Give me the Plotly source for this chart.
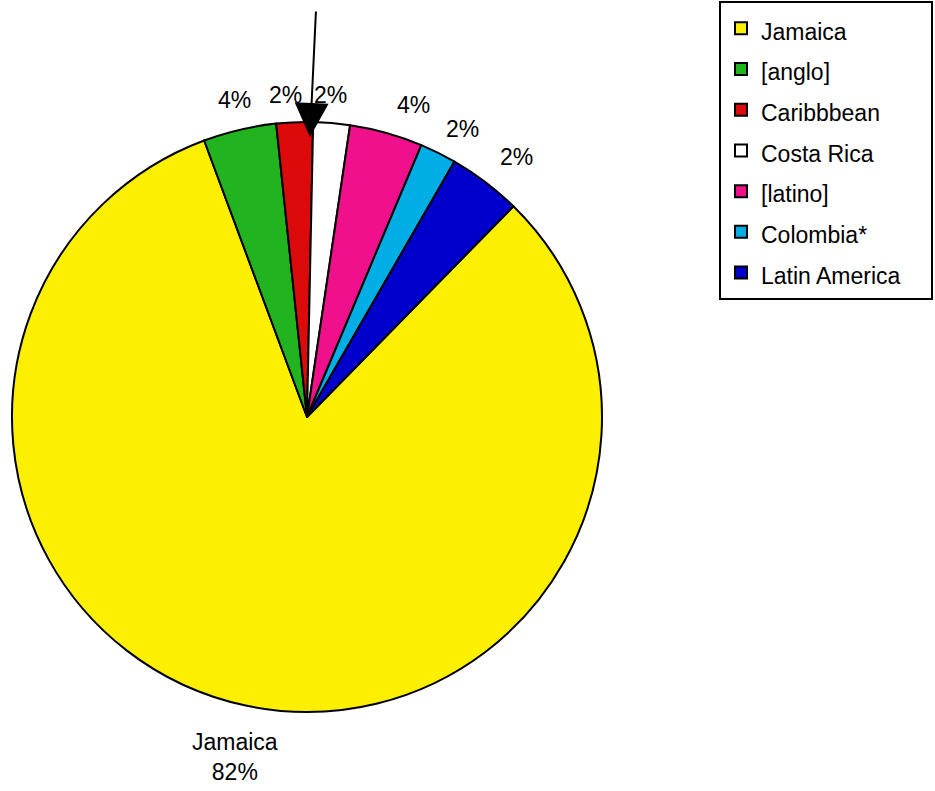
import math
import plotly.graph_objects as go

categories = ["Jamaica", "[anglo]", "Caribbbean", "Costa Rica", "[latino]", "Colombia*", "Latin America"]
values = [41, 2, 1, 1, 2, 1, 2]
slice_labels = ["Jamaica<br>82%", "4%", "2%", "2%", "4%", "2%", "2%"]
colors = ["#FCF000", "#22B41E", "#DC0A0A", "#FFFFFF", "#F0108C", "#00AEE6", "#0000CC"]

W, H = 935, 791
cx, cy, r = 307, 417, 295          # pie centre / radius in pixels
ROT = 44.4                         # start angle of first slice (deg, clockwise from 12 o'clock)
FS = 23
FONT = "Arial, Liberation Sans"
# label placement tweaks: (angle nudge in deg, extra radial gap in px)
label_nudge = {"Jamaica": (0.0, 8), "[anglo]": (0.4, 5.7), "Caribbbean": (-1.5, 5.3),
               "Costa Rica": (-0.7, 5.3), "[latino]": (3.2, 9.3), "Colombia*": (2.0, 6.7),
               "Latin America": (1.6, 11.8)}
PAD = "\u00a0" * 4  # right padding inside the legend box

fig = go.Figure(go.Pie(
    labels=[f'<span style="font-size:{FS}px">{c}{PAD}</span>' for c in categories],
    values=values,
    textinfo="none",
    sort=False,
    direction="clockwise",
    rotation=ROT,
    marker=dict(colors=colors, line=dict(color="black", width=2)),
    domain=dict(x=[(cx - r) / W, (cx + r) / W], y=[(H - cy - r) / H, (H - cy + r) / H]),
    hoverinfo="percent",
))

# slice labels placed outside each slice, derived from the values
total = sum(values)
cum = 0.0
for cat, v, lab in zip(categories, values, slice_labels):
    dang, dgap = label_nudge.get(cat, (0, 0))
    mid = ROT + (cum + v / 2) / total * 360 + dang
    cum += v
    th = math.radians(mid)
    lines = lab.split("<br>")
    w = max(len(s) for s in lines) * 0.56 * FS
    h = len(lines) * 1.2 * FS
    dist = r + 8 + dgap + (w / 2) * abs(math.sin(th)) + (h / 2) * abs(math.cos(th))
    xp = cx + dist * math.sin(th)
    yp = (H - cy) + dist * math.cos(th)
    fig.add_annotation(
        x=xp / W, y=yp / H, xref="paper", yref="paper",
        text=lab, showarrow=False, xanchor="center", yanchor="middle",
        font=dict(size=FS, color="black", family=FONT),
    )

fig.add_annotation(
    x=310 / W, y=1 - 137 / H, xref="paper", yref="paper",
    ax=6, ay=-127, axref="pixel", ayref="pixel",
    showarrow=True, arrowhead=2, arrowwidth=2, arrowsize=3.4, arrowcolor="black",
    text="",
)

fig.update_layout(
    width=W, height=H,
    margin=dict(l=0, r=0, t=0, b=0),
    paper_bgcolor="white",
    plot_bgcolor="white",
    font=dict(family=FONT, color="black", size=FS),
    legend=dict(
        x=719 / W, y=1 - 1 / H, xanchor="left", yanchor="top",
        bordercolor="black", borderwidth=2, bgcolor="white",
        font=dict(size=29.0, family=FONT, color="black"),
    ),
)

fig.write_html("out.html", config={"displayModeBar": False},
               post_script="document.body.style.margin='0';")
